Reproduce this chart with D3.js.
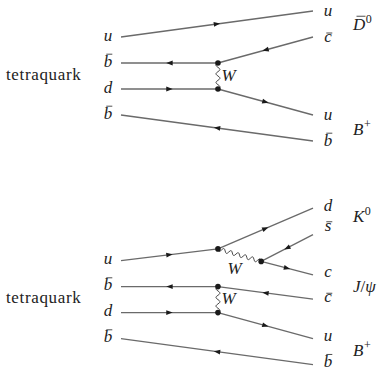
<!DOCTYPE html>
<html><head><meta charset="utf-8">
<script src="https://cdn.jsdelivr.net/npm/d3@7"></script>
<style>
html,body{margin:0;padding:0;background:#fff;}
#wrap{position:relative;width:381px;height:371px;}
#wrap svg{position:absolute;left:0;top:0;}
</style></head>
<body>
<div id="wrap"><svg id="c" width="381" height="371"></svg></div>
<script>
// ---- data (diagram units: x 0=initial state, 100=final state; y in rows) ----
const initialQuarks = ["u", "b\u0304", "d", "b\u0304"];
const initialRowsTop = [1, 2, 3, 4];
const initialRowsBottom = [9.6, 10.6, 11.6, 12.6];

const finalQuarksTop = ["u", "c\u0304", "u", "b\u0304"];
const finalRowsTop = [0, 1, 4, 5];
const finalQuarksBottom = ["d", "s\u0304", "c", "c\u0304", "u", "b\u0304"];
const finalRowsBottom = [7.49, 8.26, 10.05, 11.01, 12.49, 13.51];

const hadronsTop = [["D\u0304", "0"], ["B", "+"]];
const hadronRowsTop = [0.54, 4.58];
const hadronsBottom = [["K", "0"], ["J/\u03c8", ""], ["B", "+"]];
const hadronRowsBottom = [7.92, 10.62, 13.1];

const initialStateLabel = "tetraquark";
const initialStateRows = [2.5, 11.1];

// fermion lines, drawn in arrow direction: [x1, y1, x2, y2]
const fermionsTop = [
  [0, 1, 100, 0],
  [50.5, 2, 0, 2],
  [100, 1, 50.5, 2],
  [0, 3, 50.5, 3],
  [50.5, 3, 100, 4],
  [100, 5, 0, 4]
];
const fermionsBottom = [
  [0, 9.6, 50.5, 9.15],
  [50.5, 9.15, 100, 7.58],
  [100, 8.6, 73, 9.63],
  [73, 9.63, 100, 10.15],
  [50.5, 10.6, 0, 10.6],
  [100, 11.08, 50.5, 10.6],
  [0, 11.6, 50.5, 11.6],
  [50.5, 11.6, 100, 12.6],
  [100, 13.6, 0, 12.6]
];
// W boson lines
const bosons = [
  [50.5, 2, 50.5, 3],
  [50.5, 9.15, 73, 9.63],
  [50.5, 10.6, 50.5, 11.6]
];
const bosonLabel = "W";

// ---- scales ----
const x = d3.scaleLinear().domain([0, 100]).range([121, 313]);
const y = d3.scaleLinear().domain([0, 14]).range([11, 375]);

const svg = d3.select("#c");
const LINE = "#6a6a6a", INK = "#1a1a1a", TXT = "#222";
const FONT = '"Liberation Serif", monospace';
const FS = 17;
const ASC = 0.891; // font ascent (em)

// fermion lines
const fermions = fermionsTop.concat(fermionsBottom);
svg.append("g").selectAll("line").data(fermions).join("line")
  .attr("x1", d => x(d[0])).attr("y1", d => y(d[1]))
  .attr("x2", d => x(d[2])).attr("y2", d => y(d[3]))
  .attr("stroke", LINE).attr("stroke-width", 1.3);

// arrows at midpoints
svg.append("g").selectAll("path").data(fermions).join("path")
  .attr("d", "M3.2,0 L-3.2,-2.4 L-3.2,2.4 Z")
  .attr("fill", INK)
  .attr("transform", d => {
    const x1 = x(d[0]), y1 = y(d[1]), x2 = x(d[2]), y2 = y(d[3]);
    const a = Math.atan2(y2 - y1, x2 - x1) * 180 / Math.PI;
    return `translate(${(x1 + x2) / 2},${(y1 + y2) / 2}) rotate(${a})`;
  });

// wiggly bosons
const wig = d3.line().curve(d3.curveBasis);
svg.append("g").selectAll("path").data(bosons).join("path")
  .attr("fill", "none").attr("stroke", "#333").attr("stroke-width", 0.9)
  .attr("d", d => {
    const x1 = x(d[0]), y1 = y(d[1]), x2 = x(d[2]), y2 = y(d[3]);
    const L = Math.hypot(x2 - x1, y2 - y1);
    const ux = (x2 - x1) / L, uy = (y2 - y1) / L;
    const nx = -uy, ny = ux;
    const n = Math.max(2, Math.round(L / 7.5));
    const pts = [];
    const N = n * 8;
    for (let i = 0; i <= N; i++) {
      const t = i / N;
      const s = Math.sin(2 * Math.PI * n * t) * 2.2;
      pts.push([x1 + ux * L * t + nx * s, y1 + uy * L * t + ny * s]);
    }
    return wig(pts);
  });

// vertices
const verts = [];
bosons.forEach(b => { verts.push([b[0], b[1]]); verts.push([b[2], b[3]]); });
svg.append("g").selectAll("circle").data(verts).join("circle")
  .attr("cx", d => x(d[0])).attr("cy", d => y(d[1])).attr("r", 2.8).attr("fill", INK);

// ---- text layer (HTML, positioned by baseline) ----
const layer = d3.select("#wrap").append("div")
  .style("position", "absolute").style("left", "0px").style("top", "0px")
  .style("width", "381px").style("height", "371px");

function label(px, base, opts) {
  opts = opts || {};
  const fs = opts.fs || FS;
  const d = layer.append("div")
    .style("position", "absolute")
    .style("left", px + "px")
    .style("top", (base - ASC * fs) + "px")
    .style("font-family", FONT)
    .style("font-size", fs + "px")
    .style("line-height", "1.107")
    .style("white-space", "nowrap")
    .style("color", TXT);
  if (opts.italic) d.style("font-style", "italic");
  if (opts.center) d.style("transform", "translateX(-50%)");
  return d;
}

// W labels
const wPos = [
  b => [x(b[0]) + 3.5, (y(b[1]) + y(b[3])) / 2 + 6],
  b => [(x(b[0]) + x(b[2])) / 2 - 12, (y(b[1]) + y(b[3])) / 2 + 20.5],
  b => [x(b[0]) + 3.5, (y(b[1]) + y(b[3])) / 2 + 6]
];
bosons.forEach((b, i) => {
  const p = wPos[i](b);
  label(p[0], p[1], { italic: true }).text(bosonLabel);
});

// quark label with optional bar (combining macron drawn as a rule)
function quarkLabel(name, cx, base) {
  const hasBar = name.indexOf("\u0304") >= 0;
  const ch = name.replace("\u0304", "");
  label(cx, base, { italic: true, center: true }).text(ch);
  if (hasBar) {
    const tall = /[bdhklBDK]/.test(ch);
    const by = base - (tall ? 13.8 : 10);
    svg.append("line").attr("x1", cx - 3 + 1.3).attr("x2", cx + 3 + 1.3)
      .attr("y1", by).attr("y2", by).attr("stroke", TXT).attr("stroke-width", 0.8);
  }
}

const leftX = x(0) - 13;
initialQuarks.forEach((q, i) => quarkLabel(q, leftX, y(initialRowsTop[i]) + 5));
initialQuarks.forEach((q, i) => quarkLabel(q, leftX, y(initialRowsBottom[i]) + 5));

const rightX = x(100) + 15;
finalQuarksTop.forEach((q, i) => quarkLabel(q, rightX, y(finalRowsTop[i]) + 6));
finalQuarksBottom.forEach((q, i) => quarkLabel(q, rightX, y(finalRowsBottom[i]) + 6));

// tetraquark
initialStateRows.forEach(r => {
  label(x(0) - 115, y(r) + 5, {}).style("letter-spacing", "0.65px").text(initialStateLabel);
});

// hadrons
function hadronLabel(h, base) {
  const hx = x(100) + 40;
  const hasBar = h[0].indexOf("\u0304") >= 0;
  const main = h[0].replace("\u0304", "");
  const t = label(hx, base, {});
  if (main.indexOf("/") >= 0) {
    const parts = main.split("/");
    t.append("span").style("font-style", "italic").text(parts[0]);
    t.append("span").text("/");
    t.append("span").style("font-style", "italic").text(parts[1]);
  } else {
    t.append("span").style("font-style", "italic").text(main);
  }
  if (h[1]) t.append("span").style("font-size", "12px").style("position", "relative")
    .style("top", "-7px").style("margin-left", "0.5px").text(h[1]);
  if (hasBar) {
    const by = base - 14.8;
    svg.append("line").attr("x1", hx + 3.5).attr("x2", hx + 12.5)
      .attr("y1", by).attr("y2", by).attr("stroke", TXT).attr("stroke-width", 0.8);
  }
}
hadronsTop.forEach((h, i) => hadronLabel(h, y(hadronRowsTop[i]) + 6));
hadronsBottom.forEach((h, i) => hadronLabel(h, y(hadronRowsBottom[i]) + 6));
</script>
</body></html>
